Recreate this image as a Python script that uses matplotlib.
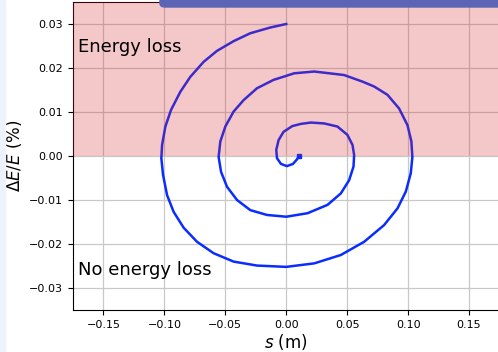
import matplotlib
matplotlib.use("Agg")
import matplotlib.pyplot as plt
from matplotlib.patches import FancyBboxPatch, Rectangle

# Spiral: longitudinal position s (m) and energy deviation dE/E (%)
s_m = [0.0000, -0.0131, -0.0295, -0.0432, -0.0568, -0.0678, -0.0787, -0.0869, -0.0945,
       -0.0992, -0.1019, -0.1025, -0.1011, -0.0978, -0.0924, -0.0842, -0.0732, -0.0596,
       -0.0432, -0.0240, 0.0000, 0.0230, 0.0448, 0.0639, 0.0803, 0.0913, 0.0981, 0.1022,
       0.1035, 0.1027, 0.0995, 0.0926, 0.0831, 0.0721, 0.0626, 0.0475, 0.0230, 0.0066,
       -0.0104, -0.0240, -0.0350, -0.0432, -0.0500, -0.0541, -0.0555, -0.0535, -0.0486,
       -0.0404, -0.0295, -0.0158, 0.0000, 0.0175, 0.0339, 0.0448, 0.0516, 0.0552, 0.0557,
       0.0544, 0.0502, 0.0420, 0.0311, 0.0202, 0.0120, 0.0050, -0.0022, -0.0063, -0.0082,
       -0.0076, -0.0043, 0.0005, 0.0055, 0.0087, 0.0107]
dE = [0.0300, 0.0292, 0.0279, 0.0261, 0.0239, 0.0214, 0.0180, 0.0146, 0.0105,
      0.0067, 0.0025, -0.0005, -0.0043, -0.0089, -0.0127, -0.0163, -0.0195, -0.0221,
      -0.0240, -0.0249, -0.0252, -0.0244, -0.0225, -0.0195, -0.0157, -0.0119, -0.0081, -0.0039,
      -0.0002, 0.0033, 0.0070, 0.0108, 0.0139, 0.0158, 0.0169, 0.0184, 0.0192, 0.0188,
      0.0173, 0.0154, 0.0127, 0.0101, 0.0067, 0.0033, -0.0002, -0.0036, -0.0070,
      -0.0100, -0.0123, -0.0134, -0.0138, -0.0130, -0.0111, -0.0085, -0.0055, -0.0024, 0.0002,
      0.0025, 0.0048, 0.0067, 0.0074, 0.0076, 0.0073, 0.0068, 0.0055, 0.0036, 0.0014,
      -0.0005, -0.0018, -0.0023, -0.0018, -0.0008, 0.0000]

x_ticks = [-0.15, -0.10, -0.05, 0.00, 0.05, 0.10, 0.15]
y_ticks = [-0.03, -0.02, -0.01, 0.00, 0.01, 0.02, 0.03]

fig = plt.figure(figsize=(4.98, 3.52), dpi=100)
ax = fig.add_axes([73 / 498, 42 / 352, 426.5 / 498, 308 / 352])

ax.plot(s_m, dE, color="#0a2cff", lw=1.8, zorder=2)
ax.plot(s_m[-1], dE[-1], "s", color="#0a2cff", ms=2.5, zorder=2)

# shaded region drawn over the line and grid
ax.axhspan(0, 0.035, color="tab:red", alpha=0.25, lw=0, zorder=3)

ax.text(-0.1705, 0.0236, "Energy loss", fontsize=13, zorder=4)
ax.text(-0.1705, -0.0270, "No energy loss", fontsize=13, zorder=4)

ax.set_xlim(-0.175, 0.175)
ax.set_ylim(-0.035, 0.035)
ax.set_xticks(x_ticks)
ax.set_yticks(y_ticks)
ax.tick_params(labelsize=8)
ax.grid(True, color="#c8c8c8", lw=0.9, zorder=1)
ax.set_axisbelow(True)
ax.set_xlabel("$s$ (m)", fontsize=12, labelpad=2)
ax.set_ylabel(r"$\Delta E/E$ (%)", fontsize=12)

# bits of the surrounding page that show in the crop
fig.patches.append(FancyBboxPatch((160 / 498, 345 / 352), 345 / 498, 12 / 352,
                                  boxstyle="round,pad=0,rounding_size=0.01",
                                  transform=fig.transFigure, color="#5b64b5",
                                  zorder=10, figure=fig))
fig.patches.append(Rectangle((0, 0), 5 / 498, 1, transform=fig.transFigure,
                             color="#eef3fb", zorder=0, figure=fig))

fig.savefig("out.png", dpi=100)
